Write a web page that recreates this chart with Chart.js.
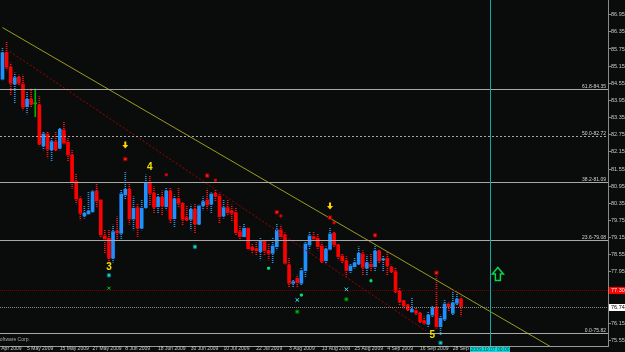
<!DOCTYPE html>
<html>
<head>
<meta charset="utf-8">
<script src="https://cdn.jsdelivr.net/npm/chart.js@4.4.1/dist/chart.umd.min.js"></script>
<style>
  html, body { margin: 0; padding: 0; background: #0a0c0c; overflow: hidden; }
  #wrap { width: 625px; height: 352px; }
</style>
</head>
<body>
<div id="wrap"><canvas id="chart" width="625" height="352"></canvas></div>
<script>
// daily bars from 27 Apr 2009 to 30 Sep 2009 (one value per trading day)
const opens = [84.69,85.63,85.11,84.52,84.76,84.53,83.73,83.99,83.83,83.79,
  82.36,82.78,82.22,82.51,82.28,82.92,82.49,82.04,81.11,80.51,
  79.91,79.98,80.06,80.78,80.47,79.21,79.13,78.43,79.38,79.30,
  80.64,80.84,79.80,80.20,79.48,80.20,81.05,80.70,80.23,80.56,
  80.23,80.78,79.81,80.51,80.35,79.85,79.79,80.14,79.62,80.27,
  80.47,80.32,80.70,80.61,79.91,80.20,80.08,80.02,79.36,79.18,
  79.48,78.81,78.76,78.66,79.04,78.69,78.60,78.83,79.42,79.24,
  78.19,77.55,77.73,77.55,77.99,78.89,79.18,79.13,78.86,78.34,
  78.74,79.30,78.89,78.51,78.33,77.99,78.13,78.23,78.58,78.08,
  78.22,78.13,78.68,78.37,78.43,78.11,77.96,77.28,76.94,76.79,
  76.55,76.59,76.50,76.24,76.12,76.44,76.71,76.03,76.29,76.83,
  76.50,76.85,77.00];
const highs = [85.79,86.01,85.26,84.91,84.84,84.84,84.26,84.35,84.35,84.08,
  82.86,82.86,82.64,82.86,83.01,83.21,82.66,82.22,81.38,80.58,
  80.27,80.76,80.79,81.11,80.49,79.42,79.44,79.59,79.88,80.82,
  81.44,81.02,80.58,80.35,80.47,81.34,81.31,80.93,80.70,80.79,
  80.90,80.88,80.64,80.88,80.37,80.26,80.29,80.35,80.29,80.58,
  80.85,80.72,80.82,80.70,80.47,80.47,80.29,80.21,79.56,79.63,
  79.51,78.95,79.01,79.13,79.09,78.95,79.13,79.63,79.59,79.32,
  78.43,77.69,77.84,78.08,79.07,79.36,79.36,79.30,78.97,78.83,
  79.48,79.36,78.95,78.60,78.48,78.25,78.43,78.83,78.69,78.54,
  78.60,78.89,78.74,78.51,78.66,78.19,78.08,77.38,76.99,76.85,
  77.03,76.71,76.56,76.38,76.56,76.76,77.78,76.44,76.99,76.87,
  77.26,77.20,77.08];
const lows = [84.67,85.02,84.14,83.86,84.49,83.62,83.48,83.73,83.38,82.36,
  82.22,81.94,81.84,82.16,82.22,82.43,81.84,80.88,80.33,79.77,
  79.83,79.98,80.04,80.23,79.18,78.60,78.27,78.29,79.01,79.11,
  80.49,79.62,79.42,79.18,79.42,80.18,80.27,80.02,80.02,79.94,
  80.12,79.65,79.51,80.23,79.59,79.73,79.42,79.32,79.59,80.12,
  80.12,80.02,80.41,79.65,79.83,79.94,79.71,79.24,79.09,79.15,
  78.72,78.58,78.54,78.37,78.54,78.37,78.25,78.72,79.13,78.23,
  77.43,77.43,77.41,77.49,77.78,78.72,79.01,78.72,78.25,78.27,
  78.72,78.83,78.37,78.25,77.80,77.90,78.08,78.19,77.84,77.84,
  77.96,77.96,78.25,77.96,77.84,77.90,77.20,76.79,76.68,76.56,
  76.55,76.44,76.15,76.12,76.03,76.36,75.98,75.74,76.24,76.56,
  76.44,76.79,76.41];
const closes = [85.62,85.11,84.55,84.75,84.55,83.71,83.99,83.82,83.83,82.42,
  82.78,82.24,82.51,82.22,82.94,82.45,82.04,81.07,80.50,80.00,
  80.00,80.08,80.76,80.43,79.24,79.10,78.43,79.36,79.31,80.68,
  80.84,79.80,80.18,79.48,80.18,81.05,80.70,80.21,80.56,80.26,
  80.78,79.79,80.51,80.35,79.79,79.77,80.14,79.63,80.26,80.41,
  80.29,80.68,80.60,79.88,80.20,80.02,80.00,79.32,79.18,79.48,
  78.76,78.72,78.69,79.04,78.69,78.60,78.86,79.42,79.18,78.25,
  77.55,77.61,77.57,77.99,78.93,79.21,79.10,78.83,78.31,78.75,
  79.28,78.89,78.48,78.33,78.00,78.16,78.27,78.60,78.11,78.27,
  78.13,78.68,78.33,78.40,78.17,77.96,77.26,76.91,76.76,76.62,
  76.64,76.50,76.21,76.15,76.44,76.70,76.03,76.33,76.83,76.73,
  76.87,77.00,76.74];

// time axis: bar index of each label (bar 0 = 27 Apr 2009)
const tickBars = [-2, 6, 14, 22, 30, 38, 46, 54, 62, 70, 78, 86, 94, 102, 110];
const tickLabels = ['23 Apr 2009', '5 May 2009', '15 May 2009', '27 May 2009', '8 Jun 2009',
  '18 Jun 2009', '30 Jun 2009', '10 Jul 2009', '22 Jul 2009', '3 Aug 2009', '13 Aug 2009',
  '25 Aug 2009', '4 Sep 2009', '16 Sep 2009', '28 Sep 2009'];
const priceTicks = [75.55, 76.15, 76.75, 77.35, 77.95, 78.55, 79.15, 79.75, 80.35, 80.95,
  81.55, 82.15, 82.75, 83.35, 83.95, 84.55, 85.15, 85.75, 86.35, 86.95];

// fibonacci levels
const fibNames = ['61.8', '50.0', '38.2', '23.6', '0.0'];
const fibPrices = [84.35, 82.72, 81.09, 79.08, 75.82];

// trend lines (bar, price)
const trendBars = [0, 147];
const trendPrices = [86.50, 74.24];
const channelBars = [1.8, 103.4];
const channelPrices = [85.66, 75.89];

const alertPrice = 77.30;
const bidPrice = 76.74;
const vlineBar = 119;
const vlineLabel = '2009.10.07 00:00';

// signals
const sellArrowBars = [30, 80];
const sellArrowPrices = [82.39, 80.26];
const buyArrowBars = [121];
const buyArrowPrices = [77.88];
const waveBars = [26, 36, 105];
const waveLabels = ['3', '4', '5'];
const wavePrices = [78.10, 81.62, 75.73];

const redBigBars = [30, 50, 67, 80, 91, 106];
const redBigPrices = [81.90, 81.32, 80.04, 79.85, 79.23, 77.92];
const redSmallBars = [40, 52, 68, 81];
const redSmallPrices = [81.35, 81.16, 79.91, 79.67];
const cyanSquareBars = [26, 47, 107];
const cyanSquarePrices = [77.83, 78.83, 75.47];
const cyanCrossBars = [72, 84];
const cyanCrossPrices = [76.97, 77.34];
const greenSquareBars = [72, 84];
const greenSquarePrices = [76.56, 76.99];
const greenSmallBars = [65, 73, 90];
const greenSmallPrices = [78.08, 77.14, 77.64];
const greenCrossBars = [26];
const greenCrossPrices = [77.38];

const FONT = "'Liberation Sans Narrow', 'Liberation Sans', sans-serif";
const AXIS_SIZE = 5.5;
const SMALL_SIZE = 5;
Chart.defaults.font.family = FONT;
Chart.defaults.font.size = AXIS_SIZE;

function dotted(color) {
  const c = document.createElement('canvas');
  c.width = 1; c.height = 2;
  const g = c.getContext('2d');
  g.fillStyle = color;
  g.fillRect(0, 0, 1, 1);
  return g.createPattern(c, 'repeat');
}
const wickUp = dotted('#2a90d8');
const wickDown = dotted('#ff1010');

function bodyColor(i) {
  if (closes[i] > opens[i]) return '#1e90ff';
  if (closes[i] < opens[i]) return '#ff0000';
  return '#00b000';
}
function wickColor(i) {
  if (closes[i] > opens[i]) return wickUp;
  if (closes[i] < opens[i]) return wickDown;
  return '#00b000';
}
const pts = (bars, prices) => bars.map((b, k) => ({ x: b, y: prices[k] }));

function markers(bars, prices, style, r, fill, border) {
  return {
    type: 'scatter', data: pts(bars, prices), pointStyle: style, pointRadius: r,
    backgroundColor: fill, borderColor: border, borderWidth: 1, order: 0
  };
}

const overlay = {
  id: 'overlay',
  beforeDraw(chart) {
    const { ctx, width, height } = chart;
    ctx.save();
    ctx.fillStyle = '#0a0c0c';
    ctx.fillRect(0, 0, width, height);
    ctx.restore();
  },
  afterDatasetsDraw(chart) {
    const { ctx, chartArea: a, scales: { x, y } } = chart;
    const hline = (p, color, dash) => {
      const py = Math.round(y.getPixelForValue(p)) + 0.5;
      ctx.strokeStyle = color;
      ctx.setLineDash(dash);
      ctx.beginPath(); ctx.moveTo(a.left, py); ctx.lineTo(a.right, py); ctx.stroke();
      return py;
    };
    ctx.save();
    ctx.beginPath();
    ctx.rect(a.left, a.top, a.right - a.left, a.bottom - a.top);
    ctx.clip();
    ctx.lineWidth = 1;

    // fibo levels
    ctx.font = SMALL_SIZE + 'px ' + FONT;
    ctx.textAlign = 'right';
    ctx.textBaseline = 'alphabetic';
    fibPrices.forEach((p, k) => {
      const py = hline(p, '#a8a8a8', fibNames[k] === '50.0' ? [2, 2] : []);
      ctx.fillStyle = '#d4d4d4';
      ctx.fillText(fibNames[k] + '-' + p.toFixed(2), a.right - 2, py - 1.5);
    });
    hline(alertPrice, '#7a0000', [1, 1]);
    hline(bidPrice, '#8a8a8a', [1, 1]);

    // vertical line
    const vx = Math.round(x.getPixelForValue(vlineBar)) + 0.5;
    ctx.setLineDash([]);
    ctx.strokeStyle = '#12a8a8';
    ctx.beginPath(); ctx.moveTo(vx, a.top); ctx.lineTo(vx, a.bottom); ctx.stroke();

    // sell arrows (yellow, pointing down)
    ctx.fillStyle = '#ffd400';
    sellArrowBars.forEach((b, k) => {
      const px = x.getPixelForValue(b), py = y.getPixelForValue(sellArrowPrices[k]);
      ctx.beginPath();
      ctx.moveTo(px - 1, py - 3.5); ctx.lineTo(px + 1, py - 3.5); ctx.lineTo(px + 1, py);
      ctx.lineTo(px + 3, py); ctx.lineTo(px, py + 3.5); ctx.lineTo(px - 3, py);
      ctx.lineTo(px - 1, py); ctx.closePath(); ctx.fill();
    });

    // buy arrow (green outline, pointing up)
    ctx.strokeStyle = '#00d84a';
    ctx.lineWidth = 1.5;
    buyArrowBars.forEach((b, k) => {
      const px = x.getPixelForValue(b), py = y.getPixelForValue(buyArrowPrices[k]);
      ctx.beginPath();
      ctx.moveTo(px, py - 6.5); ctx.lineTo(px + 5.5, py); ctx.lineTo(px + 2.5, py);
      ctx.lineTo(px + 2.5, py + 6.5); ctx.lineTo(px - 2.5, py + 6.5); ctx.lineTo(px - 2.5, py);
      ctx.lineTo(px - 5.5, py); ctx.closePath(); ctx.stroke();
    });

    // wave counts
    ctx.fillStyle = '#f2e000';
    ctx.font = 'bold 10px "Liberation Sans", sans-serif';
    ctx.textAlign = 'center';
    ctx.textBaseline = 'middle';
    waveBars.forEach((b, k) => {
      ctx.fillText(waveLabels[k], x.getPixelForValue(b), y.getPixelForValue(wavePrices[k]));
    });

    // copyright (cut at the left edge)
    ctx.fillStyle = '#a8a8a8';
    ctx.font = SMALL_SIZE + 'px ' + FONT;
    ctx.textAlign = 'left';
    ctx.fillText('Software Corp.', -3.5, 339.5);
    ctx.restore();
  },
  afterDraw(chart) {
    const { ctx, chartArea: a, scales: { x, y } } = chart;
    ctx.save();
    ctx.textBaseline = 'middle';
    ctx.textAlign = 'left';
    ctx.font = AXIS_SIZE + 'px ' + FONT;
    const box = (p, bg, fg) => {
      const py = Math.round(y.getPixelForValue(p));
      ctx.fillStyle = bg;
      ctx.fillRect(a.right + 1, py - 3, 17, 7);
      ctx.fillStyle = fg;
      ctx.fillText(p.toFixed(2), a.right + 3, py + 0.5);
    };
    box(alertPrice, '#ff0000', '#ffe8e8');
    box(bidPrice, '#ffffff', '#000000');

    const vx = Math.round(x.getPixelForValue(vlineBar));
    ctx.font = SMALL_SIZE + 'px ' + FONT;
    ctx.fillStyle = '#00e0e0';
    ctx.fillRect(vx - 20, a.bottom + 1, 40, 6);
    ctx.fillStyle = '#0a3a3a';
    ctx.textAlign = 'center';
    ctx.fillText(vlineLabel, vx, a.bottom + 4);
    ctx.restore();
  }
};

new Chart(document.getElementById('chart'), {
  type: 'bar',
  data: {
    datasets: [
      {
        label: 'wicks',
        data: lows.map((l, i) => ({ x: i, y: [l, highs[i]] })),
        backgroundColor: c => wickColor(c.dataIndex),
        barThickness: 1, grouped: false, borderWidth: 0, order: 3
      },
      {
        label: 'bodies',
        data: opens.map((o, i) => ({ x: i, y: [o, closes[i]] })),
        backgroundColor: c => bodyColor(c.dataIndex),
        barThickness: 3, minBarLength: 1, grouped: false, borderWidth: 0, order: 2
      },
      {
        type: 'line', label: 'trend', data: pts(trendBars, trendPrices),
        borderColor: '#9c9c1c', borderWidth: 1, pointRadius: 0, order: 1
      },
      {
        type: 'line', label: 'channel', data: pts(channelBars, channelPrices),
        borderColor: '#a00000', borderWidth: 1, borderDash: [2, 2], pointRadius: 0, order: 1
      },
      markers(redBigBars, redBigPrices, 'rect', 2.4, '#ff1818', '#8a0000'),
      markers(redSmallBars, redSmallPrices, 'rect', 1.4, '#e00000', '#e00000'),
      markers(cyanSquareBars, cyanSquarePrices, 'rect', 2.2, '#10e0d0', '#007870'),
      markers(cyanCrossBars, cyanCrossPrices, 'crossRot', 2.5, '#30e8f0', '#30e8f0'),
      markers(greenSquareBars, greenSquarePrices, 'rect', 2.2, '#00c000', '#006000'),
      markers(greenSmallBars, greenSmallPrices, 'rect', 1.4, '#00e870', '#00e870'),
      markers(greenCrossBars, greenCrossPrices, 'crossRot', 2.2, '#00d000', '#00d000')
    ]
  },
  options: {
    responsive: false,
    animation: false,
    events: [],
    layout: { padding: 0, autoPadding: false },
    plugins: { legend: { display: false }, tooltip: { enabled: false } },
    scales: {
      x: {
        type: 'linear', position: 'bottom', min: -0.61, max: 147.9, bounds: 'data',
        offset: false,
        grid: { display: false, drawTicks: false, tickLength: 0, offset: false },
        border: { display: true, color: '#9a9a9a' },
        afterBuildTicks: s => { s.ticks = tickBars.map(v => ({ value: v })); },
        afterFit: s => { s.height = 6; s.paddingLeft = 0; s.paddingRight = 0; },
        ticks: {
          autoSkip: false, maxRotation: 0, align: 'start', padding: 0,
          color: '#c8c8c8', font: { size: SMALL_SIZE },
          callback: (v, i) => tickLabels[i]
        }
      },
      y: {
        type: 'linear', position: 'right', min: 75.358, max: 87.464, bounds: 'data',
        grid: { drawOnChartArea: false, drawTicks: true, tickLength: 3, color: '#8a8a8a' },
        border: { display: true, color: '#8a8a8a', dash: [1, 1] },
        afterBuildTicks: s => { s.ticks = priceTicks.map(v => ({ value: v })); },
        afterFit: s => { s.width = 17; s.paddingTop = 0; s.paddingBottom = 0; },
        ticks: {
          padding: 0, color: '#c8c8c8', font: { size: AXIS_SIZE },
          callback: v => Number(v).toFixed(2)
        }
      }
    }
  },
  plugins: [overlay]
});
</script>
</body>
</html>
